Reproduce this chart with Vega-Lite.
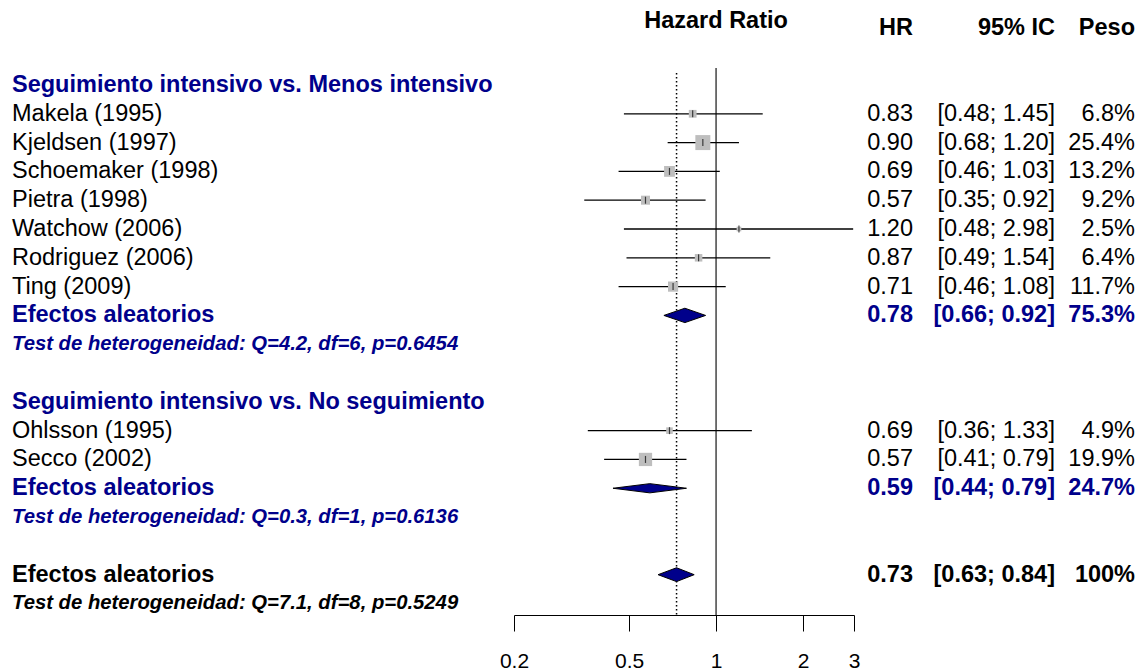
{
  "$schema": "https://vega.github.io/schema/vega-lite/v6.json",
  "padding": {"left": 12, "top": 0, "right": 0, "bottom": 0},
  "bounds": "flush",
  "spacing": 0,
  "background": "white",
  "config": {"view": {"stroke": null}, "font": "Liberation Sans", "text": {"font": "Liberation Sans"}},
  "datasets": {
    "rows": [
      {"row": -2.22, "kind": "hrheader", "label": "Hazard Ratio"},
      {"row": -1.98, "kind": "header", "hr_txt": "HR", "ci_txt": "95% IC", "w_txt": "Peso"},
      {"row": 0, "kind": "group", "label": "Seguimiento intensivo vs. Menos intensivo"},
      {"row": 1, "kind": "study", "label": "Makela (1995)", "hr": 0.83, "lo": 0.48, "hi": 1.45, "w": 6.8, "hr_txt": "0.83", "ci_txt": "[0.48; 1.45]", "w_txt": "6.8%"},
      {"row": 2, "kind": "study", "label": "Kjeldsen (1997)", "hr": 0.90, "lo": 0.68, "hi": 1.20, "w": 25.4, "hr_txt": "0.90", "ci_txt": "[0.68; 1.20]", "w_txt": "25.4%"},
      {"row": 3, "kind": "study", "label": "Schoemaker (1998)", "hr": 0.69, "lo": 0.46, "hi": 1.03, "w": 13.2, "hr_txt": "0.69", "ci_txt": "[0.46; 1.03]", "w_txt": "13.2%"},
      {"row": 4, "kind": "study", "label": "Pietra (1998)", "hr": 0.57, "lo": 0.35, "hi": 0.92, "w": 9.2, "hr_txt": "0.57", "ci_txt": "[0.35; 0.92]", "w_txt": "9.2%"},
      {"row": 5, "kind": "study", "label": "Watchow (2006)", "hr": 1.20, "lo": 0.48, "hi": 2.98, "w": 2.5, "hr_txt": "1.20", "ci_txt": "[0.48; 2.98]", "w_txt": "2.5%"},
      {"row": 6, "kind": "study", "label": "Rodriguez (2006)", "hr": 0.87, "lo": 0.49, "hi": 1.54, "w": 6.4, "hr_txt": "0.87", "ci_txt": "[0.49; 1.54]", "w_txt": "6.4%"},
      {"row": 7, "kind": "study", "label": "Ting (2009)", "hr": 0.71, "lo": 0.46, "hi": 1.08, "w": 11.7, "hr_txt": "0.71", "ci_txt": "[0.46; 1.08]", "w_txt": "11.7%"},
      {"row": 8, "kind": "pooled", "label": "Efectos aleatorios", "hr": 0.78, "lo": 0.66, "hi": 0.92, "w": 75.3, "hr_txt": "0.78", "ci_txt": "[0.66; 0.92]", "w_txt": "75.3%"},
      {"row": 9, "kind": "test", "label": "Test de heterogeneidad: Q=4.2, df=6, p=0.6454"},
      {"row": 11, "kind": "group", "label": "Seguimiento intensivo vs. No seguimiento"},
      {"row": 12, "kind": "study", "label": "Ohlsson (1995)", "hr": 0.69, "lo": 0.36, "hi": 1.33, "w": 4.9, "hr_txt": "0.69", "ci_txt": "[0.36; 1.33]", "w_txt": "4.9%"},
      {"row": 13, "kind": "study", "label": "Secco (2002)", "hr": 0.57, "lo": 0.41, "hi": 0.79, "w": 19.9, "hr_txt": "0.57", "ci_txt": "[0.41; 0.79]", "w_txt": "19.9%"},
      {"row": 14, "kind": "pooled", "label": "Efectos aleatorios", "hr": 0.59, "lo": 0.44, "hi": 0.79, "w": 24.7, "hr_txt": "0.59", "ci_txt": "[0.44; 0.79]", "w_txt": "24.7%"},
      {"row": 15, "kind": "test", "label": "Test de heterogeneidad: Q=0.3, df=1, p=0.6136"},
      {"row": 17, "kind": "overall", "label": "Efectos aleatorios", "hr": 0.73, "lo": 0.63, "hi": 0.84, "w": 100, "hr_txt": "0.73", "ci_txt": "[0.63; 0.84]", "w_txt": "100%"},
      {"row": 18, "kind": "overall_test", "label": "Test de heterogeneidad: Q=7.1, df=8, p=0.5249"}
    ],
    "diamonds": [
      {"d": "a", "hr": 0.66, "top": 8, "bot": 8},
      {"d": "a", "hr": 0.78, "top": 7.75, "bot": 8.25},
      {"d": "a", "hr": 0.92, "top": 8, "bot": 8},
      {"d": "b", "hr": 0.44, "top": 14, "bot": 14},
      {"d": "b", "hr": 0.59, "top": 13.84, "bot": 14.16},
      {"d": "b", "hr": 0.79, "top": 14, "bot": 14},
      {"d": "c", "hr": 0.63, "top": 17, "bot": 17},
      {"d": "c", "hr": 0.73, "top": 16.76, "bot": 17.24},
      {"d": "c", "hr": 0.84, "top": 17, "bot": 17}
    ]
  },
  "hconcat": [
    {
      "width": 502, "height": 615,
      "data": {"name": "rows"},
      "encoding": {
        "x": {"datum": 0, "type": "quantitative", "scale": {"domain": [0, 1]}, "axis": null},
        "y": {"field": "row", "type": "quantitative", "scale": {"domain": [-2.95, 18.4], "reverse": true, "nice": false, "zero": false}, "axis": null},
        "text": {"field": "label"},
        "color": {"field": "kind", "type": "nominal", "scale": {"domain": ["study", "group", "pooled", "test", "overall", "overall_test", "header", "hrheader"], "range": ["#000000", "#00008B", "#00008B", "#00008B", "#000000", "#000000", "#000000", "#000000"]}, "legend": null}
      },
      "layer": [
        {"transform": [{"filter": "datum.kind === 'study'"}], "mark": {"type": "text", "align": "left", "baseline": "middle", "fontSize": 23.5}},
        {"transform": [{"filter": "indexof(['group','pooled','overall'], datum.kind) >= 0"}], "mark": {"type": "text", "align": "left", "baseline": "middle", "fontSize": 23.5, "fontWeight": "bold"}},
        {"transform": [{"filter": "indexof(['test','overall_test'], datum.kind) >= 0"}], "mark": {"type": "text", "align": "left", "baseline": "middle", "fontSize": 20.3, "fontWeight": "bold", "fontStyle": "italic"}}
      ]
    },
    {
      "width": 340, "height": 615,
      "data": {"name": "rows"},
      "layer": [
        {
          "data": {"values": [{}]},
          "mark": {"type": "rule", "color": "#444444", "strokeWidth": 1.5},
          "encoding": {
            "x": {"datum": 1, "type": "quantitative", "scale": {"type": "log", "domain": [0.2, 3], "nice": false}, "axis": {"values": [0.2, 0.5, 1, 2, 3], "format": "~g", "title": null, "grid": false, "tickSize": 16, "tickColor": "#000000", "tickWidth": 1, "domainColor": "#000000", "domainWidth": 1, "labelFontSize": 21, "labelColor": "#000000", "labelPadding": 19, "labelFont": "Liberation Sans", "labelFlush": false, "labelOverlap": false}},
            "y": {"datum": -0.59, "type": "quantitative", "scale": {"domain": [-2.95, 18.4], "reverse": true, "nice": false, "zero": false}, "axis": null},
            "y2": {"datum": 18.4}
          }
        },
        {
          "data": {"values": [{}]},
          "mark": {"type": "rule", "color": "#000000", "strokeWidth": 1.5, "strokeDash": [1.5, 2.5]},
          "encoding": {
            "x": {"datum": 0.73, "type": "quantitative"},
            "y": {"datum": -0.42, "type": "quantitative"},
            "y2": {"datum": 18.4}
          }
        },
        {
          "transform": [{"filter": "datum.kind === 'study'"}],
          "mark": {"type": "rule", "color": "#000000", "strokeWidth": 1.3},
          "encoding": {
            "x": {"field": "lo", "type": "quantitative"},
            "x2": {"field": "hi"},
            "y": {"field": "row", "type": "quantitative"}
          }
        },
        {
          "transform": [{"filter": "datum.kind === 'study'"}],
          "mark": {"type": "point", "shape": "square", "filled": true, "color": "#BEBEBE", "opacity": 1},
          "encoding": {
            "x": {"field": "hr", "type": "quantitative"},
            "y": {"field": "row", "type": "quantitative"},
            "size": {"field": "w", "type": "quantitative", "scale": {"type": "linear", "domain": [0, 25.4], "range": [0, 225]}, "legend": null}
          }
        },
        {
          "transform": [{"filter": "datum.kind === 'study'"}],
          "mark": {"type": "tick", "orient": "vertical", "size": 7, "thickness": 1.2, "color": "#000000"},
          "encoding": {
            "x": {"field": "hr", "type": "quantitative"},
            "y": {"field": "row", "type": "quantitative"}
          }
        },
        {
          "data": {"name": "diamonds"},
          "mark": {"type": "area", "orient": "vertical", "fill": "#00008B", "stroke": "#000000", "strokeWidth": 1, "opacity": 1},
          "encoding": {
            "x": {"field": "hr", "type": "quantitative"},
            "y": {"field": "top", "type": "quantitative"},
            "y2": {"field": "bot"},
            "detail": {"field": "d", "type": "nominal"}
          }
        },
        {
          "transform": [{"filter": "datum.kind === 'hrheader'"}],
          "mark": {"type": "text", "align": "center", "baseline": "middle", "fontSize": 23.5, "fontWeight": "bold", "color": "#000000"},
          "encoding": {
            "x": {"datum": 1, "type": "quantitative"},
            "y": {"field": "row", "type": "quantitative"},
            "text": {"field": "label"}
          }
        }
      ]
    },
    {
      "width": 59, "height": 615,
      "data": {"name": "rows"},
      "encoding": {
        "x": {"datum": 1, "type": "quantitative", "scale": {"domain": [0, 1]}, "axis": null},
        "y": {"field": "row", "type": "quantitative", "scale": {"domain": [-2.95, 18.4], "reverse": true, "nice": false, "zero": false}, "axis": null},
        "text": {"field": "hr_txt"},
        "color": {"field": "kind", "type": "nominal", "legend": null}
      },
      "layer": [
        {"transform": [{"filter": "datum.kind === 'study'"}], "mark": {"type": "text", "align": "right", "baseline": "middle", "fontSize": 23.5}},
        {"transform": [{"filter": "indexof(['header','pooled','overall'], datum.kind) >= 0"}], "mark": {"type": "text", "align": "right", "baseline": "middle", "fontSize": 23.5, "fontWeight": "bold"}}
      ]
    },
    {
      "width": 142, "height": 615,
      "data": {"name": "rows"},
      "encoding": {
        "x": {"datum": 1, "type": "quantitative", "scale": {"domain": [0, 1]}, "axis": null},
        "y": {"field": "row", "type": "quantitative", "scale": {"domain": [-2.95, 18.4], "reverse": true, "nice": false, "zero": false}, "axis": null},
        "text": {"field": "ci_txt"},
        "color": {"field": "kind", "type": "nominal", "legend": null}
      },
      "layer": [
        {"transform": [{"filter": "datum.kind === 'study'"}], "mark": {"type": "text", "align": "right", "baseline": "middle", "fontSize": 23.5}},
        {"transform": [{"filter": "indexof(['header','pooled','overall'], datum.kind) >= 0"}], "mark": {"type": "text", "align": "right", "baseline": "middle", "fontSize": 23.5, "fontWeight": "bold"}}
      ]
    },
    {
      "width": 80, "height": 615,
      "data": {"name": "rows"},
      "encoding": {
        "x": {"datum": 1, "type": "quantitative", "scale": {"domain": [0, 1]}, "axis": null},
        "y": {"field": "row", "type": "quantitative", "scale": {"domain": [-2.95, 18.4], "reverse": true, "nice": false, "zero": false}, "axis": null},
        "text": {"field": "w_txt"},
        "color": {"field": "kind", "type": "nominal", "legend": null}
      },
      "layer": [
        {"transform": [{"filter": "datum.kind === 'study'"}], "mark": {"type": "text", "align": "right", "baseline": "middle", "fontSize": 23.5}},
        {"transform": [{"filter": "indexof(['header','pooled','overall'], datum.kind) >= 0"}], "mark": {"type": "text", "align": "right", "baseline": "middle", "fontSize": 23.5, "fontWeight": "bold"}}
      ]
    }
  ]
}
